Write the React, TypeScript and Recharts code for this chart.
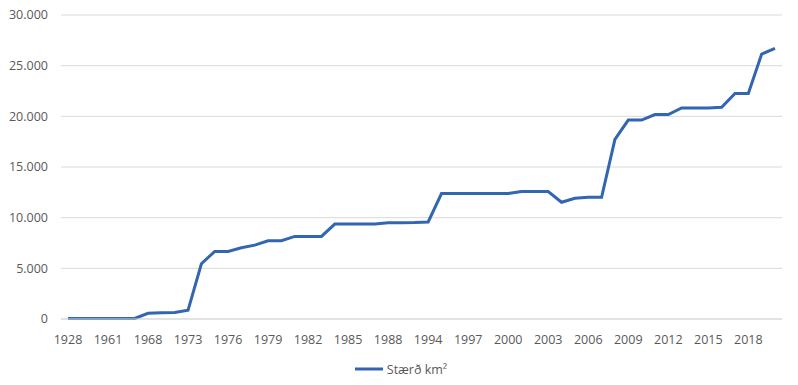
import React from 'react';
import { LineChart, Line, XAxis, YAxis, CartesianGrid, Legend } from 'recharts';

// Ár (category axis, every third one gets a label)
const years = [
  '1928', '1940', '1956', '1961', '1964', '1966', '1968', '1970', '1972', '1973',
  '1974', '1975', '1976', '1977', '1978', '1979', '1980', '1981', '1982', '1983',
  '1984', '1985', '1986', '1987', '1988', '1990', '1992', '1994', '1995', '1996',
  '1997', '1998', '1999', '2000', '2001', '2002', '2003', '2004', '2005', '2006',
  '2007', '2008', '2009', '2010', '2011', '2012', '2013', '2014', '2015', '2016',
  '2017', '2018', '2019', '2020',
];

// Stærð km² per year
const area = [
  60, 60, 60, 60, 60, 60, 560, 620, 650, 860,
  5450, 6670, 6670, 7030, 7290, 7720, 7720, 8150, 8150, 8150,
  9370, 9370, 9370, 9370, 9500, 9500, 9520, 9580, 12380, 12380,
  12380, 12380, 12380, 12380, 12570, 12570, 12570, 11520, 11910, 12010,
  12010, 17720, 19630, 19630, 20170, 20170, 20820, 20820, 20820, 20890,
  22250, 22250, 26140, 26700,
];

const yTicks = [0, 5000, 10000, 15000, 20000, 25000, 30000];

const seriesName = 'Stærð km²';
const lineColor = '#3266b0';
const textColor = '#595959';
const font = '"Open Sans", sans-serif';

const data = years.map((y, i) => ({ year: y, value: area[i] }));

const fmt = (v: number) => v.toLocaleString('de-DE');

const LegendBox = () => (
  <div style={{ display: 'flex', justifyContent: 'center', alignItems: 'center', fontFamily: font, fontSize: 12.5, color: textColor, height: 20, paddingLeft: 12 }}>
    <svg width={28} height={6} style={{ marginRight: 4 }}>
      <line x1={0} y1={3} x2={28} y2={3} stroke={lineColor} strokeWidth={3} />
    </svg>
    <span>{seriesName}</span>
  </div>
);

export default function App() {
  return (
    <div style={{ position: 'absolute', left: 0, top: 0, background: '#fff' }}>
      <LineChart width={798} height={385} data={data} margin={{ top: 15, right: 16, left: 8, bottom: 6 }}>
        <CartesianGrid vertical={false} stroke="#d9d9d9" />
        <XAxis
          dataKey="year"
          interval={2}
          tickLine={false}
          axisLine={{ stroke: '#d9d9d9' }}
          padding={{ left: 7, right: 7 }}
          height={40}
          tickMargin={10}
          tick={{ fill: textColor, fontSize: 12.5, fontFamily: font }}
        />
        <YAxis
          width={53}
          domain={[0, 30000]}
          ticks={yTicks}
          tickFormatter={fmt}
          axisLine={false}
          tickLine={false}
          tickMargin={7}
          tick={{ fill: textColor, fontSize: 12.5, fontFamily: font }}
        />
        <Legend verticalAlign="bottom" height={20} content={<LegendBox />} />
        <Line
          type="linear"
          dataKey="value"
          name={seriesName}
          stroke={lineColor}
          strokeWidth={3}
          dot={false}
          isAnimationActive={false}
        />
      </LineChart>
    </div>
  );
}
